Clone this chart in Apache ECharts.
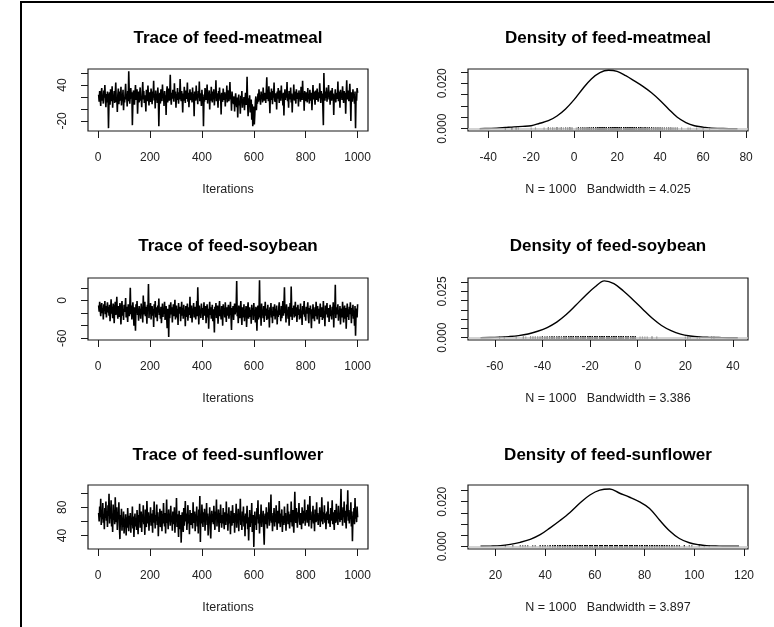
<!DOCTYPE html>
<html><head><meta charset="utf-8">
<script src="https://cdn.jsdelivr.net/npm/echarts@6/dist/echarts.min.js"></script>
<style>html,body{margin:0;padding:0;background:#fff}#c{width:774px;height:627px}</style>
</head><body><div id="c"></div>
<script>
// ---- data (traces thinned to every 2nd iteration) ----
const iterStep = 2;
const meatmealTrace = [
 24,12,30,18,5,27,35,14,22,9,31,19,40,16,3,25,11,29,21,-32,
 15,28,7,33,20,13,38,2,23,17,30,10,26,44,12,19,-5,24,34,8,
 21,29,14,37,6,25,18,32,-2,20,11,27,42,16,23,4,30,13,63,26,
 9,22,35,17,28,-27,12,31,19,7,26,40,15,21,33,-8,18,29,11,24,
 36,14,20,3,27,45,16,30,10,23,18,-4,32,25,13,39,21,6,28,17,
 12,34,22,8,29,19,47,14,25,1,31,17,24,10,36,20,-29,15,27,9,
 33,21,13,41,18,26,5,30,16,23,-10,28,38,11,20,34,14,24,57,19,
 7,27,17,32,22,12,43,18,29,2,25,15,35,20,9,28,16,50,23,13,
 30,19,-6,26,14,37,21,10,31,17,24,44,12,27,3,22,33,15,19,28,
 11,36,18,25,-12,29,20,14,39,16,23,8,30,19,46,13,26,21,5,32,
 17,24,-29,20,12,35,27,15,22,41,9,28,18,31,-1,25,14,37,20,11,
 29,16,33,6,23,19,48,13,26,21,2,30,17,36,14,24,-9,27,19,12,
 34,22,15,28,4,25,18,39,11,31,20,13,27,45,16,23,-3,29,18,14,
 8,21,-4,17,26,12,3,19,-14,15,24,6,13,-8,22,11,30,2,16,9,
 20,-2,14,27,7,12,54,10,-12,18,5,23,-6,11,16,-18,8,-29,-12,4,
 -26,-8,13,21,-2,17,9,26,12,33,15,20,7,29,18,24,11,36,19,14,
 27,22,10,31,53,17,25,13,38,20,-7,28,15,34,23,8,30,19,44,16,
 12,26,21,-1,29,17,35,23,10,31,20,14,39,18,25,6,27,-11,22,33,
 15,28,19,45,13,24,2,30,21,16,36,11,26,-6,23,18,41,14,29,20,
 9,33,22,17,27,4,31,19,24,12,37,21,15,47,18,26,-3,30,20,13,
 28,23,11,35,17,25,9,32,20,14,27,-2,22,40,16,29,19,7,31,24,
 15,34,21,12,28,18,43,23,10,30,17,26,4,-27,60,22,14,29,19,36,
 12,25,20,40,16,28,7,31,22,14,35,18,26,-10,24,19,33,11,27,21,
 17,46,13,29,23,2,32,19,25,15,38,21,10,30,18,27,-8,24,48,16,
 20,31,13,26,42,18,-20,28,22,12,33,19,25,9,29,-32,21,14,35,27
];
const soybeanTrace = [
 -8,-18,-2,-14,-25,-10,-4,-20,-12,-30,-6,-16,-1,-22,-9,-27,-13,-3,-19,-11,
 -24,-7,-33,-15,2,-21,-10,-28,-5,-17,-36,-12,-2,-23,-14,6,-19,-29,-9,-16,
 -26,-4,-20,-38,-11,-1,-24,-15,-31,-7,-18,-13,4,-27,-10,-21,-34,-6,-16,-25,
 -12,20,-22,-8,-30,-14,-3,-19,-40,-11,-26,-48,-6,-17,-1,-23,-13,-32,-9,-20,
 -15,-29,-5,-18,-11,-35,8,-22,-14,-2,-25,-10,-19,-37,-7,-16,26,-28,-12,-21,
 -4,-30,-17,-9,-24,-13,-42,-6,-20,-1,-27,-15,-11,-33,-8,-19,3,-23,-14,-29,
 -10,-36,-18,-5,-26,-12,-21,-2,-31,-16,-9,-24,-44,-13,-20,-58,-7,-28,-15,-3,
 -22,-11,-35,-17,-6,-25,-14,1,-30,-19,-8,-27,-13,-39,-4,-21,-16,-10,-33,-18,
 -2,-24,-12,-29,-7,-20,-15,-41,-9,-26,-14,-5,-32,-18,-11,-23,6,-28,-16,-8,
 -35,-13,-21,-4,-27,-17,-10,-30,-19,-1,-25,21,-14,-38,-8,-22,-16,-28,-5,-20,
 -12,-31,-18,-3,-24,-15,-9,-36,-21,-6,-27,-13,-45,-17,-2,-23,-11,-29,-19,-7,
 -33,-14,-26,-51,-10,-20,-4,-28,-16,-8,-37,-22,-12,-1,-25,-18,-30,-9,-15,-40,
 -6,-21,-13,-27,-3,-19,-34,-11,-24,-16,-7,-29,-20,-14,-2,-26,-47,-12,-18,-9,
 -31,-15,-5,-22,-17,-10,31,-25,-13,-36,-8,-20,-28,-14,-1,-23,-39,-11,-18,-27,
 -6,-33,-16,-21,-9,-42,-24,-13,-3,-29,-18,-11,-26,-15,-37,-7,-20,-12,-31,-4,
 -22,-17,-35,-10,-25,-48,-14,-8,-30,-19,32,-27,-12,-40,-5,-23,-16,-28,-9,-34,
 -18,-2,-24,-13,-31,-20,-7,-29,-15,-43,-11,-22,-4,-27,-17,-36,-10,-25,-19,-6,
 -30,-14,-21,-8,-38,-16,-26,-12,-3,-23,-18,-33,-9,-28,-15,-1,-24,-11,21,-20,
 -13,-35,-6,-22,-17,-29,-10,-40,-19,-4,-26,22,-15,-31,-12,-21,-8,-27,-16,-2,
 -25,-11,-34,-18,-7,-23,-14,-30,-20,-5,-28,-16,-39,-9,-22,-13,-1,-26,-18,-32,
 -10,-21,-15,-3,-27,-36,-12,-19,-8,-24,-44,-14,-29,-6,-20,-17,-33,-11,-25,-2,
 -16,-30,-9,-23,-13,-37,-19,-5,-26,-15,-11,-31,-21,-1,-28,-17,-41,-8,-22,-14,
 -4,-27,-18,-12,-34,-20,-7,-25,-16,-30,-10,-23,-3,-43,-14,-19,25,-28,-11,-22,
 -17,-6,-32,-15,-24,-9,-38,-20,-13,-27,-2,-21,-35,-16,-8,-29,-12,-45,-19,-5,
 -26,-14,-31,-10,-22,-3,-18,-36,-12,-24,-7,-29,-16,-40,-9,-56,-20,-13,-27,-6
];
const sunflowerTrace = [
 72,60,81,66,92,55,75,63,86,58,70,49,79,65,88,61,74,52,83,68,
 99,57,77,64,90,53,71,45,84,62,76,56,94,67,59,80,48,73,63,87,
 54,35,69,58,78,47,65,52,74,43,61,56,70,40,66,51,79,59,46,68,
 57,72,44,63,55,81,50,67,38,60,71,53,64,48,76,58,42,69,62,85,
 51,66,74,45,70,59,83,56,64,41,77,61,52,89,67,57,73,47,68,60,
 80,54,71,63,44,76,58,88,65,50,69,61,84,55,73,39,66,59,78,52,
 62,75,46,70,57,86,64,53,72,43,67,91,58,63,49,77,60,71,54,82,
 59,68,47,74,63,56,80,44,66,61,93,52,70,57,38,75,64,49,69,30,
 58,73,62,45,79,54,67,89,60,71,48,64,83,57,69,42,76,61,55,72,
 66,50,87,63,58,74,46,70,61,81,53,68,43,77,62,96,31,71,57,84,
 65,52,73,60,78,47,69,63,86,55,71,40,67,58,80,50,36,64,75,59,
 70,56,82,62,48,74,66,91,53,68,60,77,45,72,58,84,63,51,69,57,
 79,61,49,73,66,55,88,60,71,47,64,80,57,68,42,75,62,54,83,67,
 58,72,44,69,63,85,51,66,59,78,46,70,62,92,55,67,48,74,60,81,
 53,68,39,71,57,64,82,49,66,33,60,76,52,70,58,86,45,62,69,24,
 61,74,55,67,48,79,63,90,57,70,43,65,59,84,52,68,62,75,47,27,
 64,71,56,80,60,50,73,65,87,54,68,61,98,58,72,46,67,63,79,53,
 69,59,83,62,48,75,66,57,89,63,52,71,60,77,45,68,64,55,81,58,
 72,47,67,61,85,56,74,63,50,70,59,88,65,53,76,62,44,71,102,66,
 58,79,63,51,73,67,86,60,55,72,64,49,80,68,57,75,61,91,54,69,
 63,76,58,84,66,53,71,96,62,74,50,68,60,82,57,70,46,77,65,59,
 87,61,72,55,69,64,80,52,75,60,94,67,56,73,63,83,58,71,49,66,
 74,62,88,57,70,65,52,79,61,68,90,56,73,63,48,76,66,58,85,60,
 71,55,82,64,69,59,77,106,62,73,54,80,66,88,58,75,63,50,84,67,
 104,61,76,57,70,65,87,53,74,32,68,60,79,56,93,64,72,59,81,66
];
const meatmealDensX = [-44,-40,-36,-32,-28,-24,-20,-16,-12,-8,-4,0,4,8,12,16,20,24,28,32,36,40,44,48,52,56,60,64,68,72,76];
const meatmealDensY = [0.0000,0.0001,0.0002,0.0005,0.0008,0.0010,0.0013,0.0024,0.0035,0.0056,0.0087,0.0128,0.0176,0.0219,0.0247,0.0257,0.0252,0.0233,0.0210,0.0186,0.0158,0.0124,0.0086,0.0050,0.0027,0.0013,0.0007,0.0002,0.0001,0.0000,0.0000];
const soybeanDensX = [-66,-62,-58,-54,-50,-46,-42,-38,-34,-30,-26,-22,-18,-14,-10,-6,-2,2,6,10,14,18,22,26,30,34,38,42];
const soybeanDensY = [0.0000,0.0001,0.0003,0.0006,0.0011,0.0020,0.0035,0.0055,0.0084,0.0125,0.0175,0.0227,0.0274,0.0307,0.0292,0.0252,0.0205,0.0155,0.0106,0.0066,0.0038,0.0019,0.0009,0.0004,0.0002,0.0001,0.0000,0.0000];
const sunflowerDensX = [14,18,22,26,30,34,38,42,46,50,54,58,62,66,70,74,78,82,86,90,94,98,102,106,110,114,118];
const sunflowerDensY = [0.0000,0.0001,0.0003,0.0009,0.0018,0.0031,0.0052,0.0083,0.0116,0.0152,0.0194,0.0230,0.0252,0.0257,0.0238,0.0220,0.0199,0.0170,0.0118,0.0070,0.0035,0.0016,0.0007,0.0002,0.0001,0.0000,0.0000];

const paramNames = ['feed-meatmeal','feed-soybean','feed-sunflower'];
const bandwidths = ['4.025','3.386','3.897'];
const sampleSize = 1000;
const traceXTicks = [0,200,400,600,800,1000];
const traceYTicks = [[-20,0,20,40,60],[-60,-40,-20,0,20],[40,60,80,100]];
const traceYLabels = [[-20,40],[-60,0],[40,80]];
const densXTicks = [[-40,-20,0,20,40,60,80],[-60,-40,-20,0,20,40],[20,40,60,80,100,120]];
const densYTicks = [[0,0.005,0.010,0.015,0.020,0.025],[0,0.005,0.010,0.015,0.020,0.025,0.030],[0,0.005,0.010,0.015,0.020,0.025]];
const densYLabels = [[0,0.020],[0,0.025],[0,0.020]];

// ---- layout ----
const FONT = '"Liberation Sans", Arial, sans-serif';
const rows = [{top:69,h:62,title:38.5},{top:278,h:62,title:246.7},{top:485,h:64,title:455.8}];
const cols = [{left:88,w:280},{left:468,w:280}];
const traceYRange = [[-36.8,66.8],[-62.8,35.7],[21,111.5]];
const densXRange = [[-49.4,80.9],[-71.25,46.3],[8.97,121.6]];
const densYRange = [[-0.00102,0.02626],[-0.00124,0.03224],[-0.0012,0.0275]];
const traces = [meatmealTrace, soybeanTrace, sunflowerTrace];
const densX = [meatmealDensX, soybeanDensX, sunflowerDensX];
const densY = [meatmealDensY, soybeanDensY, sunflowerDensY];

const grid=[], xAxis=[], yAxis=[], series=[], graphic=[];
const INK = '#1a1a1a';
function xAx(i, min, max, ticks, name){
  return {gridIndex:i, type:'value', min, max,
    axisLine:{show:false, onZero:false}, splitLine:{show:false},
    axisTick:{show:true, inside:false, length:7, customValues:ticks, lineStyle:{color:INK,width:1}},
    axisLabel:{customValues:ticks, fontSize:12, color:'#222', margin:21, fontFamily:FONT, formatter:v=>String(v)},
    name, nameLocation:'middle', nameGap:52,
    nameTextStyle:{fontSize:12.5, color:'#222', fontFamily:FONT}};
}
function yAx(i, min, max, ticks, labels, fmt){
  return {gridIndex:i, type:'value', min, max,
    axisLine:{show:false, onZero:false}, splitLine:{show:false},
    axisTick:{show:true, inside:false, length:7, customValues:ticks, lineStyle:{color:INK,width:1}},
    axisLabel:{customValues:labels, rotate:90, fontSize:12, color:'#222', margin:19, fontFamily:FONT, formatter:fmt}};
}
for (let r=0;r<3;r++){
  // trace panel
  let gi = grid.length;
  grid.push({left:cols[0].left, top:rows[r].top, width:cols[0].w, height:rows[r].h, show:true, borderColor:INK, borderWidth:1.2, backgroundColor:'transparent'});
  xAxis.push(xAx(gi, -39, 1040, traceXTicks, 'Iterations'));
  yAxis.push(yAx(gi, traceYRange[r][0], traceYRange[r][1], traceYTicks[r], traceYLabels[r], v=>String(v)));
  series.push({type:'line', xAxisIndex:gi, yAxisIndex:gi, symbol:'none', animation:false,
    lineStyle:{color:'#000', width:1.6}, data: traces[r].map((v,k)=>[(k+1)*iterStep, v])});
  graphic.push({type:'text', x:cols[0].left+cols[0].w/2, y:rows[r].title,
    style:{text:'Trace of '+paramNames[r], font:'bold 17px '+FONT, fill:'#000', textAlign:'center', textVerticalAlign:'middle'}});
  // density panel
  gi = grid.length;
  grid.push({left:cols[1].left, top:rows[r].top, width:cols[1].w, height:rows[r].h, show:true, borderColor:INK, borderWidth:1.2, backgroundColor:'transparent'});
  xAxis.push(xAx(gi, densXRange[r][0], densXRange[r][1], densXTicks[r], 'N = '+sampleSize+'   Bandwidth = '+bandwidths[r]));
  yAxis.push(yAx(gi, densYRange[r][0], densYRange[r][1], densYTicks[r], densYLabels[r], v=>Number(v).toFixed(3)));
  series.push({type:'line', xAxisIndex:gi, yAxisIndex:gi, symbol:'none', animation:false, smooth:0.35, z:3,
    lineStyle:{color:'#000', width:1.4}, data: densX[r].map((x,k)=>[x, densY[r][k]]),
    markLine:{silent:true, symbol:'none', animation:false, label:{show:false},
      lineStyle:{color:'#c4c4c4', width:1.5, type:'solid'}, data:[{yAxis:0}]}});
  series.push({type:'scatter', xAxisIndex:gi, yAxisIndex:gi, symbol:'rect', symbolSize:[1.2,2], symbolOffset:[0,0],
    animation:false, silent:true, z:4, itemStyle:{color:'#000'}, data: traces[r].map(v=>[v,0])});
  graphic.push({type:'text', x:cols[1].left+cols[1].w/2, y:rows[r].title,
    style:{text:'Density of '+paramNames[r], font:'bold 17px '+FONT, fill:'#000', textAlign:'center', textVerticalAlign:'middle'}});
}
// outer frame (left and top edges of the surrounding screenshot box)
graphic.push({type:'line', shape:{x1:21,y1:2,x2:21,y2:627}, style:{stroke:'#000', lineWidth:2}});
graphic.push({type:'line', shape:{x1:20,y1:2,x2:774,y2:2}, style:{stroke:'#000', lineWidth:2}});

const chart = echarts.init(document.getElementById('c'), null, {renderer:'canvas'});
chart.setOption({animation:false, backgroundColor:'#fff', grid, xAxis, yAxis, series, graphic,
  textStyle:{fontFamily:FONT}});
</script></body></html>
